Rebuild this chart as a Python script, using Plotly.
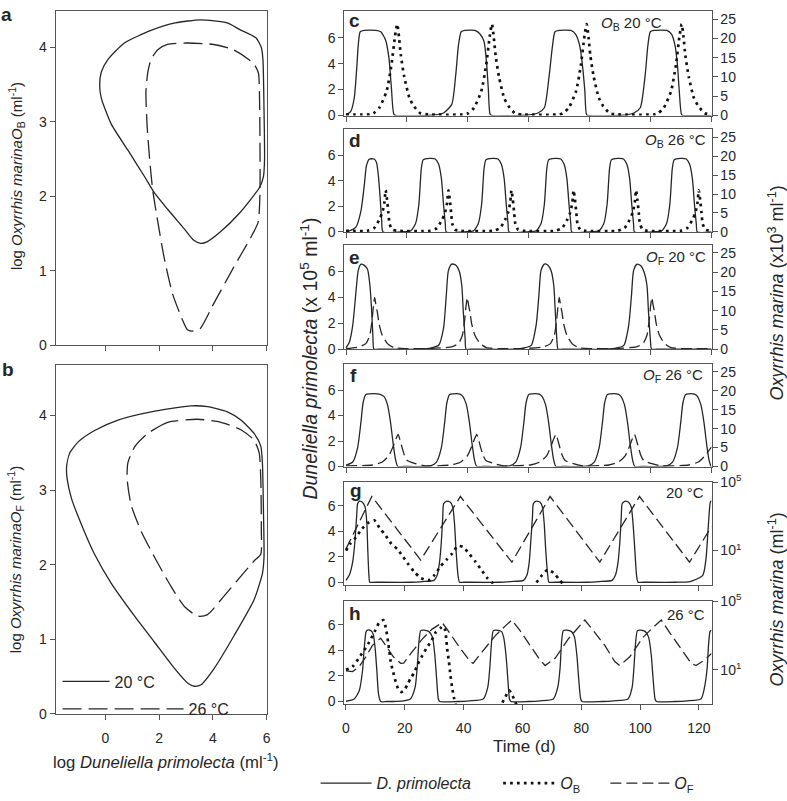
import plotly.graph_objects as go

W, H = 787, 801
FONT = "Liberation Sans, Arial, Helvetica, sans-serif"
INK = "#262626"
FRAME = "#555555"

# ------------------------------------------------------------------
# DATA
# ------------------------------------------------------------------
# Phase portraits: (log D. primolecta ml-1, log O. marina ml-1)
a_20C = [(3.54, 4.37), (2.6, 4.33), (1.7, 4.23), (0.71, 4.06), (0.1, 3.84), (-0.15, 3.67),
         (-0.21, 3.49), (-0.15, 3.32), (0.22, 2.97), (0.84, 2.62), (1.45, 2.27), (1.82, 2.05),
         (2.31, 1.83), (2.92, 1.57), (3.29, 1.41), (3.54, 1.37), (3.78, 1.39), (4.27, 1.52),
         (5.0, 1.78), (5.75, 2.13), (5.88, 2.27), (5.92, 2.5), (5.9, 3.17), (5.86, 3.84),
         (5.8, 4.0), (5.6, 4.13), (5.0, 4.24), (4.53, 4.33), (3.54, 4.37)]
a_26C = [(3.02, 4.06), (2.31, 4.04), (1.95, 3.97), (1.7, 3.84), (1.58, 3.67), (1.51, 3.4),
         (1.55, 2.97), (1.64, 2.53), (1.76, 2.09), (1.95, 1.66), (2.19, 1.17), (2.5, 0.69),
         (2.87, 0.34), (3.05, 0.21), (3.29, 0.19), (3.54, 0.23), (4.03, 0.56), (4.76, 1.04),
         (5.38, 1.43), (5.68, 1.65), (5.75, 2.04), (5.75, 2.74), (5.73, 3.4), (5.69, 3.66),
         (5.5, 3.79), (4.76, 3.97), (4.03, 4.04), (3.02, 4.06)]
b_20C = [(3.19, 4.13), (1.7, 4.05), (0.47, 3.94), (-0.4, 3.8), (-1.0, 3.65), (-1.32, 3.5),
         (-1.44, 3.32), (-1.42, 3.15), (-1.26, 2.89), (-0.89, 2.54), (-0.4, 2.14), (0.22, 1.75),
         (1.09, 1.31), (1.83, 0.96), (2.57, 0.61), (3.07, 0.41), (3.31, 0.37), (3.56, 0.39),
         (4.05, 0.61), (4.79, 1.05), (5.53, 1.53), (5.84, 1.88), (5.9, 2.1), (5.88, 2.71),
         (5.84, 3.37), (5.78, 3.59), (5.53, 3.76), (5.04, 3.94), (4.54, 4.05), (3.8, 4.12),
         (3.19, 4.13)]
b_26C = [(3.43, 3.95), (2.32, 3.91), (1.58, 3.76), (1.09, 3.58), (0.84, 3.37), (0.81, 3.15),
         (0.96, 2.8), (1.33, 2.45), (1.83, 2.1), (2.44, 1.71), (2.94, 1.44), (3.43, 1.31),
         (3.8, 1.33), (4.3, 1.53), (4.91, 1.79), (5.53, 2.05), (5.78, 2.14), (5.8, 2.49),
         (5.78, 3.15), (5.72, 3.5), (5.53, 3.67), (5.04, 3.81), (4.3, 3.91), (3.43, 3.95)]

# Time series: (time d, D. primolecta x10^5 ml-1) and (time d, O. marina)
c_dp = [(0, 0.05), (1.6, 0.35), (2.7, 1.37), (3.5, 3.6), (4.0, 5.4), (4.65, 6.45), (6.0, 6.55),
        (9.8, 6.55), (11.4, 6.45), (13.0, 5.8), (14.1, 4.4), (14.9, 2.1), (15.7, 0.1), (16.5, 0),
        (25, 0), (29, 0.05), (32, 0.2), (34.7, 0.86), (36.0, 3.1), (36.9, 5.4), (37.8, 6.45),
        (39, 6.55), (42.3, 6.55), (43.9, 6.3), (45.3, 5.7), (46.1, 4.15), (46.7, 2.1), (47.3, 0.1),
        (48, 0), (56, 0), (60, 0.05), (63, 0.2), (65.1, 0.6), (66.7, 3.1), (67.8, 5.4),
        (68.6, 6.45), (70, 6.55), (73.8, 6.55), (75.4, 6.25), (76.7, 5.4), (77.6, 3.9),
        (78.4, 1.9), (79.0, 0.05), (80, 0), (88, 0), (92, 0.05), (94.5, 0.2), (96.6, 0.6),
        (98.2, 3.1), (99.1, 5.4), (99.9, 6.45), (101, 6.55), (105.3, 6.55), (106.9, 6.25),
        (108.0, 5.4), (108.8, 3.9), (109.4, 1.9), (110.2, 0.05), (111, 0), (120, 0)]
c_ob = [(0, 0.3), (7.8, 0.3), (9.0, 0.6), (10.9, 2.0), (13.3, 6.3), (14.9, 13.1), (16.1, 20.7),
        (16.8, 23.7), (17.4, 20.3), (18.0, 15.6), (19.1, 10.1), (20.8, 4.6), (22.2, 2.5),
        (24.4, 0.6), (27.1, 0.3), (38.9, 0.3), (40.1, 0.6), (42.0, 2.0), (44.4, 6.3), (46.0, 13.1),
        (47.2, 20.7), (47.9, 23.7), (48.5, 20.3), (49.1, 15.6), (50.2, 10.1), (51.9, 4.6),
        (53.3, 2.5), (55.5, 0.6), (58.2, 0.3), (70.0, 0.3), (71.2, 0.6), (73.1, 2.0), (75.5, 6.3),
        (77.1, 13.1), (78.3, 20.7), (79.0, 23.7), (79.6, 20.3), (80.2, 15.6), (81.3, 10.1),
        (83.0, 4.6), (84.4, 2.5), (86.6, 0.6), (89.3, 0.3), (101.2, 0.3), (102.4, 0.6),
        (104.3, 2.0), (106.7, 6.3), (108.3, 13.1), (109.5, 20.7), (110.2, 23.7), (110.8, 20.3),
        (111.4, 15.6), (112.5, 10.1), (114.2, 4.6), (115.6, 2.5), (117.8, 0.6), (120, 0.3)]

d_dp = [(0, 0.03), (1.1, 0.08), (3.25, 0.38), (4.9, 1.65), (6.0, 3.67), (6.7, 5.2), (7.6, 5.7),
        (9.2, 5.72), (10.0, 5.45), (10.6, 4.45), (11.2, 2.65), (11.7, 0.9), (12.15, 0),
        (19, 0.02), (21.2, 0.08), (22.8, 0.63), (23.9, 2.15), (24.4, 3.9), (24.7, 4.95),
        (25.3, 5.65), (26.5, 5.75), (29.3, 5.72), (30.4, 5.3), (31.3, 4.2), (32.0, 2.15),
        (32.6, 0.6), (32.9, 0), (39.6, 0.02), (41.8, 0.08), (43.4, 0.63), (44.5, 2.15), (45.0, 3.9),
        (45.3, 4.95), (45.9, 5.65), (47.1, 5.75), (49.9, 5.72), (51.0, 5.3), (51.9, 4.2),
        (52.6, 2.15), (53.2, 0.6), (53.5, 0), (60.2, 0.02), (62.4, 0.08), (64.0, 0.63),
        (65.1, 2.15), (65.6, 3.9), (65.9, 4.95), (66.5, 5.65), (67.7, 5.75), (70.5, 5.72),
        (71.6, 5.3), (72.5, 4.2), (73.2, 2.15), (73.8, 0.6), (74.1, 0), (80.8, 0.02), (83.0, 0.08),
        (84.6, 0.63), (85.7, 2.15), (86.2, 3.9), (86.5, 4.95), (87.1, 5.65), (88.3, 5.75),
        (91.1, 5.72), (92.2, 5.3), (93.1, 4.2), (93.8, 2.15), (94.4, 0.6), (94.7, 0),
        (101.4, 0.02), (103.6, 0.08), (105.2, 0.63), (106.3, 2.15), (106.8, 3.9), (107.1, 4.95),
        (107.7, 5.65), (108.9, 5.75), (111.7, 5.72), (112.8, 5.3), (113.7, 4.2), (114.4, 2.15),
        (115.0, 0.6), (115.3, 0), (120, 0)]
d_ob = [(0, 0.3), (7.0, 0.3), (9.2, 1.0), (10.85, 3.1), (11.9, 5.1), (12.6, 7.8), (13.0, 11.0),
        (13.45, 8.5), (13.9, 5.1), (14.3, 2.1), (15.2, 0.6), (16.8, 0.3), (27.6, 0.3), (29.8, 1.0),
        (31.45, 3.1), (32.5, 5.1), (33.2, 7.8), (33.6, 11.0), (34.05, 8.5), (34.5, 5.1), (34.9, 2.1),
        (35.8, 0.6), (37.4, 0.3), (48.3, 0.3), (50.5, 1.0), (52.15, 3.1), (53.2, 5.1), (53.9, 7.8),
        (54.3, 11.0), (54.75, 8.5), (55.2, 5.1), (55.6, 2.1), (56.5, 0.6), (58.1, 0.3), (68.7, 0.3),
        (70.9, 1.0), (72.55, 3.1), (73.6, 5.1), (74.3, 7.8), (74.7, 11.0), (75.15, 8.5), (75.6, 5.1),
        (76.0, 2.1), (76.9, 0.6), (78.5, 0.3), (89.2, 0.3), (91.4, 1.0), (93.05, 3.1), (94.1, 5.1),
        (94.8, 7.8), (95.2, 11.0), (95.65, 8.5), (96.1, 5.1), (96.5, 2.1), (97.4, 0.6), (99.0, 0.3),
        (109.8, 0.3), (112.0, 1.0), (113.65, 3.1), (114.7, 5.1), (115.4, 7.8), (115.8, 11.0),
        (116.25, 8.5), (116.7, 5.1), (117.1, 2.1), (118.0, 0.6), (120, 0.3)]

e_dp = [(0, 0.1), (1.1, 0.55), (2.2, 1.85), (3.25, 4.4), (4.0, 6.05), (4.9, 6.55), (6.0, 6.45),
        (7.05, 6.15), (7.8, 5.0), (8.4, 3.0), (8.8, 1.1), (9.15, 0), (10.5, 0),
        (24, 0), (28, 0.1), (30.4, 0.3), (32.0, 1.6), (32.9, 4.1), (33.6, 6.05), (34.7, 6.55),
        (36.0, 6.48), (37.1, 6.05), (38.0, 4.9), (38.5, 2.86), (39.1, 0.8), (39.4, 0), (41, 0),
        (55, 0), (58.5, 0.1), (60.8, 0.3), (62.4, 1.84), (63.3, 4.1), (64.0, 6.05), (65.1, 6.55),
        (66.2, 6.48), (67.3, 6.05), (68.2, 4.9), (68.7, 2.86), (69.2, 0.8), (69.6, 0), (71, 0),
        (85, 0), (89, 0.1), (91.2, 0.3), (92.8, 1.84), (93.7, 4.1), (94.4, 6.05), (95.5, 6.55),
        (96.8, 6.43), (97.9, 5.9), (98.8, 4.9), (99.3, 2.86), (99.9, 0.8), (100.3, 0), (102, 0),
        (120, 0)]
e_of = [(0, 0.15), (4.3, 0.6), (6.5, 1.45), (7.8, 3.6), (8.46, 7.0), (9.0, 11.2), (9.4, 13.4),
        (9.76, 11.7), (10.3, 9.5), (10.85, 6.55), (11.9, 3.6), (13.6, 1.45), (15.7, 0.4),
        (19.5, 0.15), (27, 0.15), (34.7, 0.6), (36.9, 1.45), (38.2, 3.6), (38.86, 7.0), (39.4, 11.2),
        (39.8, 13.4), (40.16, 11.7), (40.7, 9.5), (41.25, 6.55), (42.3, 3.6), (44.0, 1.45),
        (46.1, 0.4), (49.9, 0.15), (58, 0.15), (64.9, 0.6), (67.1, 1.45), (68.4, 3.6), (69.06, 7.0),
        (69.6, 11.2), (70.0, 13.4), (70.36, 11.7), (70.9, 9.5), (71.45, 6.55), (72.5, 3.6),
        (74.2, 1.45), (76.3, 0.4), (80.1, 0.15), (88, 0.15), (95.3, 0.6), (97.5, 1.45), (98.8, 3.6),
        (99.46, 7.0), (100.0, 11.2), (100.4, 13.4), (100.76, 11.7), (101.3, 9.5), (101.85, 6.55),
        (102.9, 3.6), (104.6, 1.45), (106.7, 0.4), (110.5, 0.15), (120, 0.15)]

f_dp = [(0, 0.1), (2.2, 0.35), (3.8, 1.48), (4.9, 3.5), (5.6, 5.0), (6.5, 5.65), (7.6, 5.7),
        (10.9, 5.68), (12.5, 5.48), (13.6, 4.85), (14.6, 3.48), (15.5, 1.73), (16.3, 0.48),
        (17.0, 0), (19, 0), (27.7, 0.05), (29.7, 0.35), (31.3, 1.48), (32.4, 3.5), (33.1, 5.0),
        (34.0, 5.65), (35.1, 5.7), (37.4, 5.68), (38.4, 5.48), (39.5, 4.85), (40.5, 3.48),
        (41.4, 1.73), (42.2, 0.48), (42.9, 0), (45, 0), (53.7, 0.05), (55.7, 0.35), (57.3, 1.48),
        (58.4, 3.5), (59.1, 5.0), (60.0, 5.65), (61.1, 5.7), (63.4, 5.68), (64.4, 5.48),
        (65.5, 4.85), (66.5, 3.48), (67.4, 1.73), (68.2, 0.48), (68.9, 0), (71, 0), (79.5, 0.05),
        (81.5, 0.35), (83.1, 1.48), (84.2, 3.5), (84.9, 5.0), (85.8, 5.65), (86.9, 5.7),
        (89.3, 5.68), (90.3, 5.48), (91.4, 4.85), (92.4, 3.48), (93.3, 1.73), (94.1, 0.48),
        (94.8, 0), (97, 0), (105.2, 0.05), (107.2, 0.35), (108.8, 1.48), (109.9, 3.5), (110.6, 5.0),
        (111.5, 5.65), (112.6, 5.7), (114.4, 5.68), (115.4, 5.48), (116.5, 4.85), (117.5, 3.48),
        (118.4, 1.73), (119.2, 0.48), (119.9, 0), (120, 0)]
f_of = [(0, 0.15), (8.7, 0.4), (11.9, 1.2), (14.1, 2.9), (15.5, 5.4), (16.3, 7.1), (17.1, 8.5),
        (17.7, 7.1), (18.4, 5.0), (19.2, 2.9), (20.1, 1.6), (22.8, 0.76), (26.0, 0.15),
        (34.5, 0.4), (37.7, 1.2), (39.9, 2.9), (41.3, 5.4), (42.1, 7.1), (42.9, 8.5), (43.5, 7.1),
        (44.2, 5.0), (45.0, 2.9), (45.9, 1.6), (48.6, 0.76), (51.8, 0.15), (60.5, 0.4), (63.7, 1.2),
        (65.9, 2.9), (67.3, 5.4), (68.1, 7.1), (68.9, 8.5), (69.5, 7.1), (70.2, 5.0), (71.0, 2.9),
        (71.9, 1.6), (74.6, 0.76), (77.8, 0.15), (86.3, 0.4), (89.5, 1.2), (91.7, 2.9), (93.1, 5.4),
        (93.9, 7.1), (94.7, 8.5), (95.3, 7.1), (96.0, 5.0), (96.8, 2.9), (97.7, 1.6), (100.4, 0.76),
        (103.6, 0.15), (112.5, 0.4), (115.7, 1.2), (117.9, 2.9), (120, 5.2)]

g_dp = [(0, 0.15), (1.1, 0.54), (2.25, 1.56), (3.0, 3.1), (3.6, 5.1), (3.95, 6.15), (4.5, 6.35),
        (5.6, 6.28), (6.5, 5.9), (7.1, 4.6), (7.4, 2.6), (7.8, 0.54), (8.1, 0), (10, 0),
        (22, 0), (26, 0.05), (29.9, 0.15), (31.0, 0.54), (31.8, 1.56), (32.4, 3.1), (32.9, 5.1),
        (33.2, 6.15), (34.1, 6.35), (35.5, 6.28), (36.3, 5.9), (36.9, 4.6), (37.4, 2.6),
        (38.1, 0.54), (38.6, 0), (40, 0), (52, 0), (56, 0.05), (60.4, 0.15), (61.5, 0.54),
        (62.3, 1.56), (62.8, 3.1), (63.4, 5.1), (63.7, 6.15), (64.5, 6.35), (66.0, 6.28),
        (66.8, 5.9), (67.4, 4.6), (67.9, 2.6), (68.6, 0.54), (69.0, 0), (71, 0), (82, 0),
        (86, 0.05), (90.5, 0.15), (91.6, 0.54), (92.5, 1.56), (93.1, 3.1), (93.6, 5.1),
        (93.9, 6.15), (94.8, 6.35), (96.1, 6.28), (97.0, 5.9), (97.6, 4.6), (98.2, 2.6),
        (98.8, 0.54), (99.3, 0), (101, 0), (112, 0), (117, 0.05), (121.3, 0.54), (122.4, 1.8),
        (123.2, 4.4), (123.9, 6.3), (124.3, 6.4)]
g_of = [(0, 12.6), (8.8, 14500), (25.4, 2.8), (38.9, 14500), (56.4, 2.1), (69.4, 14500),
        (86.3, 2.1), (99.8, 14500), (116.8, 2.1), (124.3, 250)]
g_ob = [(0, 10.0), (1.46, 25.1), (3.4, 60.3), (5.4, 182), (7.7, 437), (9.6, 589), (11.5, 200),
        (13.5, 75.9), (15.4, 25.1), (17.5, 12.0), (19.4, 4.37), (21.2, 1.58), (23.1, 0.603),
        (25.4, 0.251), (28.0, 0.178), (30.2, 0.389), (32.1, 1.17), (34.1, 2.82), (36.1, 6.76),
        (38.0, 18.6), (39.8, 16.2), (42.0, 6.17), (44.0, 2.24), (46.0, 0.759), (48.0, 0.251),
        (49.9, 0.126), (51.0, 0.063)]
g_ob_late = [(63.5, 0.063), (64.5, 0.115), (66.6, 0.355), (68.6, 0.759), (70.9, 0.447),
             (72.5, 0.2), (73.9, 0.105), (75.0, 0.063)]

h_dp = [(0, 0.02), (2.8, 0.2), (4.5, 0.84), (5.6, 2.37), (6.2, 4.16), (6.8, 5.45), (7.3, 5.6),
        (8.45, 5.56), (9.25, 5.3), (9.9, 4.2), (10.5, 2.4), (11.05, 0.6), (11.8, 0), (14, 0),
        (16, 0), (19.5, 0.05), (21.9, 0.2), (23.5, 1.1), (24.2, 2.63), (24.8, 4.67), (25.4, 5.56),
        (26.5, 5.6), (28.2, 5.48), (29.4, 5.05), (30.2, 3.65), (30.8, 1.86), (31.4, 0.2),
        (31.9, 0), (38, 0), (42, 0.05), (46.7, 0.2), (48.2, 1.1), (48.9, 2.63), (49.5, 4.67),
        (50.1, 5.56), (51.2, 5.6), (52.9, 5.48), (53.6, 5.05), (54.4, 3.65), (55.0, 1.86),
        (55.6, 0.2), (56.1, 0), (62, 0), (66, 0.05), (70.5, 0.2), (72.0, 1.1), (72.8, 2.63),
        (73.3, 4.67), (73.9, 5.56), (75.0, 5.6), (76.7, 5.48), (77.7, 5.05), (78.5, 3.65),
        (79.1, 1.86), (79.8, 0.2), (80.3, 0), (87, 0), (91, 0.05), (95.9, 0.2), (97.3, 1.1),
        (97.9, 2.63), (98.5, 4.67), (99.1, 5.56), (100.2, 5.6), (101.8, 5.48), (102.9, 5.05),
        (103.8, 3.65), (104.4, 1.86), (105.1, 0.2), (105.6, 0), (112, 0), (116, 0.05),
        (120.7, 0.2), (121.9, 1.1), (122.8, 2.63), (123.3, 4.5), (123.8, 5.5), (124.3, 5.6)]
h_of = [(0, 8.7), (2.24, 7.9), (4.5, 15.5), (6.76, 57.5), (9.0, 269), (11.8, 708), (13.5, 269),
        (16.1, 57.5), (18.6, 24.0), (19.6, 24.5), (22.0, 89.1), (26.0, 646), (29.3, 2400),
        (32.7, 5750), (35.5, 1260), (38.9, 174), (42.3, 30.2), (43.2, 24.0), (46.3, 112),
        (50.8, 1000), (54.2, 3720), (56.4, 8130), (59.2, 1950), (62.6, 269), (66.0, 37.2),
        (67.7, 17.8), (71.1, 46.8), (75.6, 646), (78.9, 3020), (81.2, 8130), (84.1, 1950),
        (88.0, 269), (91.4, 30.2), (93.1, 17.8), (96.5, 57.5), (101.0, 794), (104.4, 3020),
        (107.2, 8130), (110.0, 1550), (114.0, 174), (117.4, 24.0), (119.0, 17.8), (121.9, 37.2),
        (124.3, 89.1)]
h_ob = [(0, 10.0), (2.24, 15.5), (5.4, 89.1), (7.9, 417), (9.9, 1950), (11.3, 5750),
        (12.7, 8130), (13.5, 3020), (14.4, 331), (15.2, 30.2), (16.0, 7.94), (16.9, 2.0),
        (18.0, 0.631), (18.9, 0.501), (19.8, 0.631), (20.9, 1.38), (22.0, 3.31), (23.1, 6.46),
        (24.3, 19.5), (25.7, 57.5), (27.3, 174), (29.1, 513), (30.5, 1550), (32.2, 2820),
        (32.9, 3550), (33.6, 2400), (34.1, 646), (34.4, 174), (35.0, 30.2), (35.5, 5.13),
        (36.1, 0.891), (36.7, 0.24), (37.2, 0.1), (37.6, 0.05)]
h_ob_late = [(52.5, 0.05), (53.0, 0.1), (54.2, 0.263), (55.5, 0.631), (56.4, 0.372),
             (57.5, 0.141), (58.1, 0.0794), (58.5, 0.05)]

time_ticks = [0, 20, 40, 60, 80, 100, 120]
dp_ticks = [0, 2, 4, 6]
om_ticks = [0, 5, 10, 15, 20, 25]
om_log_ticks = [10, 100000]
om_log_labels = ["10<sup>1</sup>", "10<sup>5</sup>"]
phase_x_ticks = [0, 2, 4, 6]
phase_y_ticks = [0, 1, 2, 3, 4]


def unzip(pairs):
    return [p[0] for p in pairs], [p[1] for p in pairs]


def px(x):
    return x / W


def py(y):
    return 1 - y / H


# ------------------------------------------------------------------
# STYLES
# ------------------------------------------------------------------
SOLID = dict(color=INK, width=1.3, shape="spline", smoothing=0.6)
DOT = dict(color="#111111", width=2.7, dash="2.7px,4.2px", shape="spline", smoothing=0.6)
DASH_R = dict(color=INK, width=1.3, dash="11px,5px", shape="spline", smoothing=0.5)
DASH_R_LIN = dict(color=INK, width=1.3, dash="11px,5px")
DASH_L = dict(color=INK, width=1.3, dash="19px,7px", shape="spline", smoothing=0.6)

fig = go.Figure()


def add(pairs, xa, ya, line, name=None, legend=None):
    x, y = unzip(pairs)
    fig.add_trace(go.Scatter(
        x=x, y=y, xaxis=xa, yaxis=ya, mode="lines", line=line,
        name=name or "", showlegend=legend is not None,
        legend=legend or "legend", hoverinfo="skip"))


# phase portraits
add(a_20C, "x", "y", SOLID)
add(a_26C, "x", "y", DASH_L)
add(b_20C, "x2", "y2", SOLID, name="20 °C", legend="legend4")
add(b_26C, "x2", "y2", DASH_L, name="26 °C", legend="legend5")

# time series, left axis y3..y8 (D. primolecta), right axis y9..y14 (O. marina)
add(c_dp, "x3", "y3", SOLID, name="<i>D. primolecta</i>", legend="legend")
add(c_ob, "x3", "y9", DOT, name="<i>O</i><sub>B</sub>", legend="legend2")
add(d_dp, "x4", "y4", SOLID)
add(d_ob, "x4", "y10", DOT)
add(e_dp, "x5", "y5", SOLID)
add(e_of, "x5", "y11", DASH_R, name="<i>O</i><sub>F</sub>", legend="legend3")
add(f_dp, "x6", "y6", SOLID)
add(f_of, "x6", "y12", DASH_R)
add(g_dp, "x7", "y7", SOLID)
add(g_of, "x7", "y13", DASH_R_LIN)
add(g_ob, "x7", "y13", DOT)
add(g_ob_late, "x7", "y13", DOT)
add(h_dp, "x8", "y8", SOLID)
add(h_of, "x8", "y14", DASH_R_LIN)
add(h_ob, "x8", "y14", DOT)
add(h_ob_late, "x8", "y14", DOT)

# ------------------------------------------------------------------
# AXES
# ------------------------------------------------------------------
TICKFONT = dict(family=FONT, size=14, color=INK)


def ax(**kw):
    base = dict(showline=True, linecolor=FRAME, linewidth=1, mirror=True,
                ticks="outside", ticklen=5, tickwidth=1, tickcolor=FRAME,
                showgrid=False, zeroline=False, tickfont=TICKFONT, fixedrange=True)
    base.update(kw)
    return base


LX = [px(54), px(267)]
RX = [px(345), px(715)]
layout_axes = {}
layout_axes["xaxis"] = ax(domain=LX, range=[-1.85, 6.01], anchor="y",
                          tickvals=phase_x_ticks, showticklabels=False)
layout_axes["yaxis"] = ax(domain=[py(343), py(1)], range=[0, 4.49], anchor="x",
                          tickvals=phase_y_ticks)
layout_axes["xaxis2"] = ax(domain=LX, range=[-1.85, 6.01], anchor="y2",
                           tickvals=phase_x_ticks, ticklabelstandoff=6)
layout_axes["yaxis2"] = ax(domain=[py(720), py(363)], range=[0, 4.68], anchor="x2",
                           tickvals=phase_y_ticks)

panels = [  # (top px, bottom px, log right axis?)
    (1, 108, False), (122, 227, False), (240, 347, False),
    (362, 467, False), (483, 588, True), (605, 710, True)]
for i, (top, bot, logr) in enumerate(panels):
    n = i + 3
    last = (i == len(panels) - 1)
    xr = [-0.55, 124.3] if logr else [-0.55, 120]
    xkw = dict(ticklabelstandoff=6) if last else {}
    layout_axes[f"xaxis{n}"] = ax(domain=RX, range=xr, anchor=f"y{n}",
                                  tickvals=time_ticks, showticklabels=last, **xkw)
    layout_axes[f"yaxis{n}"] = ax(domain=[py(bot), py(top)], anchor=f"x{n}",
                                  range=[-0.2, 7.85] if logr else [0, 8.05],
                                  tickvals=dp_ticks)
    if logr:
        right = ax(type="log", range=[-1.0, 5.0], tickvals=om_log_ticks,
                   ticktext=om_log_labels, showline=False, mirror=False)
    else:
        right = ax(range=[0, 27.1], tickvals=om_ticks, showline=False, mirror=False)
    right.update(overlaying=f"y{n}", side="right", anchor=f"x{n}")
    layout_axes[f"yaxis{n + 6}"] = right

# ------------------------------------------------------------------
# TEXT
# ------------------------------------------------------------------
ann = []


def text(x, y, s, size=15, xanchor="center", angle=0, bold=False, yanchor="middle"):
    ann.append(dict(x=px(x), y=py(y), xref="paper", yref="paper", text=s,
                    showarrow=False, xanchor=xanchor, yanchor=yanchor, textangle=angle,
                    font=dict(family=FONT, size=size, color=INK,
                              weight="bold" if bold else "normal")))


# panel letters
for lab, x, y in [("a", 5, 5), ("b", 6, 368), ("c", 355, 11), ("d", 356, 133),
                  ("e", 355, 253), ("f", 354, 374), ("g", 357, 492), ("h", 356, 617)]:
    text(x, y, lab, size=19, bold=True)

# corner labels
text(602, 14, "<i>O</i><sub>B</sub> 20 °C", xanchor="left")
text(711, 133, "<i>O</i><sub>B</sub> 26 °C", xanchor="right")
text(711, 253, "<i>O</i><sub>F</sub> 20 °C", xanchor="right")
text(708, 374, "<i>O</i><sub>F</sub> 26 °C", xanchor="right")
text(709, 494, "20 °C", xanchor="right")
text(710, 618, "26 °C", xanchor="right")

# axis titles
text(14, 170, "log <i>Oxyrrhis marina</i><i>O</i><sub>B</sub> (ml<sup>-1</sup>)", angle=-90)
text(13, 562, "log <i>Oxyrrhis marina</i><i>O</i><sub>F</sub> (ml<sup>-1</sup>)", angle=-90)
text(165, 768, "log <i>Duneliella primolecta</i> (ml<sup>-1</sup>)", size=16.7)
text(309, 357, "<i>Duneliella primolecta</i> (x 10<sup>5</sup> ml<sup>-1</sup>)", size=19.5, angle=-90)
text(780, 290, "<i>Oxyrrhis marina</i> (x10<sup>3</sup> ml<sup>-1</sup>)", size=18, angle=-90)
text(780, 603, "<i>Oxyrrhis marina</i> (ml<sup>-1</sup>)", size=18, angle=-90)
text(527, 753, "Time (d)", size=17)

LEGFONT = dict(family=FONT, size=16, color=INK)


def leg(x, y, itemwidth=30):
    return dict(x=px(x), y=py(y), xanchor="left", yanchor="middle", orientation="h",
                bgcolor="rgba(0,0,0,0)", borderwidth=0, font=LEGFONT,
                itemwidth=itemwidth, itemclick=False, itemdoubleclick=False)


fig.update_layout(
    width=W, height=H,
    margin=dict(l=0, r=0, t=0, b=0),
    paper_bgcolor="white", plot_bgcolor="white",
    font=dict(family=FONT, size=14, color=INK),
    annotations=ann,
    legend=leg(316, 791, 51),
    legend2=leg(500, 791, 52),
    legend3=leg(608, 791, 59),
    legend4=leg(56, 687, 47),
    legend5=leg(56, 715, 121),
    **layout_axes,
)

# remove the browser's default page margin so the figure sits at the window origin
fig.write_html("out.html",
               config={"displayModeBar": False, "staticPlot": True},
               post_script="document.body.style.margin='0';document.body.style.overflow='hidden';")
